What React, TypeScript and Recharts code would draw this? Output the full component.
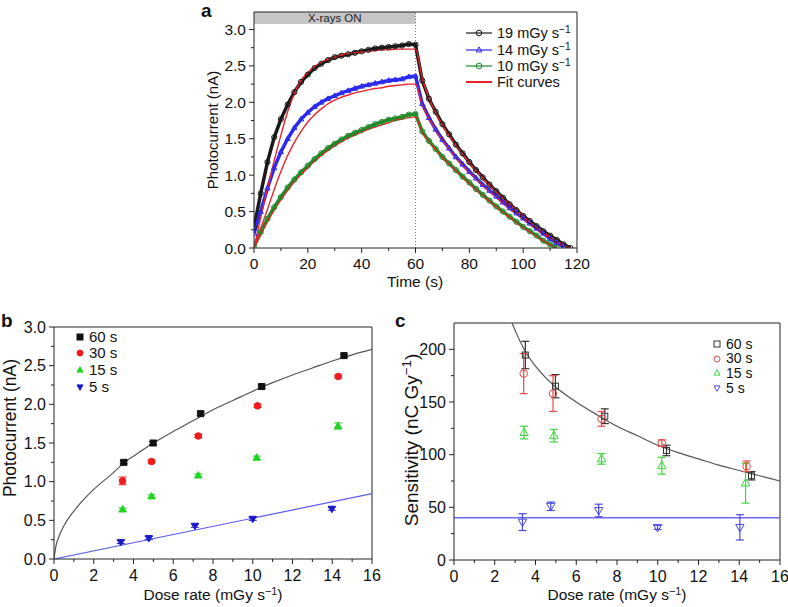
import React from 'react';
import { ComposedChart, Line, Scatter, XAxis, YAxis, ReferenceLine, ReferenceArea, ErrorBar } from 'recharts';

const FONT = '"Liberation Sans", Arial, Helvetica, sans-serif';
const AXIS = '#222';

// ---- panel a: photocurrent vs time (sampled every 2.5 s)
const TIME_A = [
  0, 2.5, 5, 7.5, 10, 12.5, 15, 17.5, 20, 22.5, 25, 27.5, 30, 32.5, 35, 37.5, 40, 42.5, 45, 47.5, 50, 52.5, 55, 57.5,
  60, 62.5, 65, 67.5, 70, 72.5, 75, 77.5, 80, 82.5, 85, 87.5, 90, 92.5, 95, 97.5, 100, 102.5, 105, 107.5, 110, 112.5, 115, 117.5,
];
const D19 = [
  0.28, 0.75, 1.18, 1.52, 1.77, 1.97, 2.14, 2.28, 2.38, 2.47, 2.53, 2.58, 2.62, 2.64, 2.66, 2.68, 2.7, 2.72, 2.74, 2.75, 2.76, 2.77, 2.78, 2.8,
  2.79, 2.3, 2.05, 1.87, 1.7, 1.56, 1.42, 1.3, 1.18, 1.07, 0.97, 0.87, 0.78, 0.69, 0.6, 0.52, 0.44, 0.37, 0.3, 0.23, 0.17, 0.11, 0.05, 0,
];
const D14 = [
  0.2, 0.5, 0.82, 1.1, 1.32, 1.5, 1.65, 1.77, 1.86, 1.94, 2.0, 2.05, 2.09, 2.13, 2.16, 2.19, 2.22, 2.24, 2.26, 2.28, 2.3, 2.31, 2.32, 2.35,
  2.36, 1.98, 1.79, 1.63, 1.49, 1.37, 1.25, 1.15, 1.05, 0.96, 0.87, 0.79, 0.71, 0.63, 0.55, 0.48, 0.41, 0.34, 0.27, 0.2, 0.13, 0.07, 0.02, null,
];
const D10 = [
  0.02, 0.22, 0.4, 0.56, 0.7, 0.83, 0.94, 1.04, 1.13, 1.22, 1.3, 1.37, 1.43, 1.49, 1.54, 1.58, 1.62, 1.66, 1.7, 1.73, 1.76, 1.78, 1.8, 1.83,
  1.84, 1.6, 1.47, 1.36, 1.25, 1.16, 1.07, 0.98, 0.9, 0.81, 0.73, 0.65, 0.57, 0.5, 0.43, 0.36, 0.29, 0.23, 0.17, 0.1, 0.05, 0, null, null,
];
const F19 = [
  0, 0.42, 0.82, 1.2, 1.55, 1.87, 2.12, 2.3, 2.41, 2.49, 2.55, 2.59, 2.62, 2.65, 2.67, 2.68, 2.69, 2.7, 2.71, 2.72, 2.72, 2.73, 2.73, 2.73,
  2.73, 2.33, 2.06, 1.86, 1.69, 1.54, 1.41, 1.29, 1.17, 1.06, 0.96, 0.86, 0.77, 0.68, 0.6, 0.52, 0.44, 0.36, 0.29, 0.22, 0.16, 0.1, 0.04, 0,
];
const F14 = [
  0, 0.27, 0.53, 0.8, 1.05, 1.27, 1.45, 1.6, 1.73, 1.83, 1.91, 1.98, 2.03, 2.07, 2.1, 2.13, 2.15, 2.17, 2.19, 2.2, 2.22, 2.23, 2.24, 2.25,
  2.25, 1.96, 1.78, 1.62, 1.48, 1.36, 1.24, 1.14, 1.04, 0.95, 0.86, 0.78, 0.7, 0.62, 0.54, 0.47, 0.4, 0.33, 0.26, 0.19, 0.13, 0.07, 0.02, null,
];
const F10 = [
  0, 0.18, 0.36, 0.52, 0.66, 0.79, 0.91, 1.01, 1.1, 1.19, 1.27, 1.34, 1.4, 1.46, 1.51, 1.55, 1.59, 1.63, 1.66, 1.69, 1.72, 1.75, 1.77, 1.79,
  1.8, 1.58, 1.46, 1.35, 1.24, 1.15, 1.06, 0.97, 0.88, 0.8, 0.72, 0.64, 0.56, 0.49, 0.42, 0.35, 0.28, 0.22, 0.16, 0.1, 0.04, 0, null, null,
];
const A_XTICKS = [0, 10, 20, 30, 40, 50, 60, 70, 80, 90, 100, 110, 120];
const A_YTICKS = [0, 0.25, 0.5, 0.75, 1, 1.25, 1.5, 1.75, 2, 2.25, 2.5, 2.75, 3];
const A_LEGEND = ['19', '14', '10'];

// ---- panel b: photocurrent vs dose rate
const B_X60 = [3.51, 4.99, 7.38, 10.45, 14.59];
const B_Y60 = [1.25, 1.5, 1.88, 2.23, 2.63];
const B_E60 = [0.02, 0.02, 0.02, 0.02, 0.02];
const B_X30 = [3.45, 4.91, 7.26, 10.24, 14.3];
const B_Y30 = [1.01, 1.26, 1.59, 1.98, 2.36];
const B_E30 = [0.05, 0.02, 0.02, 0.02, 0.02];
const B_X15 = [3.45, 4.91, 7.26, 10.2, 14.29];
const B_Y15 = [0.64, 0.81, 1.08, 1.31, 1.72];
const B_E15 = [0.02, 0.02, 0.02, 0.02, 0.04];
const B_X5 = [3.36, 4.77, 7.09, 10.0, 13.98];
const B_Y5 = [0.22, 0.27, 0.43, 0.52, 0.65];
const B_E5 = [0.02, 0.02, 0.02, 0.02, 0.02];
const B_FIT_X = [0, 0.1, 0.25, 0.5, 1, 1.5, 2, 3, 3.5, 4, 5, 6, 7, 8, 9, 10, 11, 12, 13, 14, 15, 16];
const B_FIT_Y = [0, 0.17, 0.29, 0.43, 0.62, 0.77, 0.9, 1.12, 1.24, 1.33, 1.5, 1.65, 1.79, 1.93, 2.05, 2.17, 2.28, 2.38, 2.47, 2.56, 2.64, 2.71];
const B_LIN_X = [0, 16];
const B_LIN_Y = [0, 0.845];

// ---- panel c: sensitivity vs dose rate
const C_X60 = [3.5, 4.98, 7.4, 10.43, 14.6];
const C_Y60 = [194.6, 165, 136.5, 104, 80];
const C_E60 = [13, 11, 7, 5, 4];
const C_X30 = [3.42, 4.86, 7.24, 10.2, 14.36];
const C_Y30 = [177, 158, 134, 111, 89];
const C_E30 = [19, 17, 7, 3, 5];
const C_X15 = [3.44, 4.9, 7.24, 10.2, 14.31];
const C_Y15 = [121, 118, 96, 89.5, 73];
const C_E15 = [6, 6, 5, 8, 19];
const C_X5 = [3.36, 4.75, 7.1, 9.99, 14.03];
const C_Y5 = [36, 51, 47, 31, 31];
const C_E5 = [8, 4, 6, 2, 12];
const C_FIT_X = [2.85, 3, 3.5, 4, 5, 6, 7, 8, 9, 10, 11, 12, 13, 14, 15, 16];
const C_FIT_Y = [225, 218, 198, 184, 164, 150, 138, 127, 118, 109, 102, 96, 90, 85, 80, 75];
const C_LIN_X = [0, 16];
const C_LIN_Y = [40, 40];

const DOSE_XTICKS = [0, 1, 2, 3, 4, 5, 6, 7, 8, 9, 10, 11, 12, 13, 14, 15, 16];
const B_YTICKS = [0, 0.25, 0.5, 0.75, 1, 1.25, 1.5, 1.75, 2, 2.25, 2.5, 2.75, 3];
const C_YTICKS = [0, 25, 50, 75, 100, 125, 150, 175, 200];
const BC_LEGEND = ['60 s', '30 s', '15 s', '5 s'];

const rowsA = TIME_A.map((t, i) => ({ t, d19: D19[i], d14: D14[i], d10: D10[i], f19: F19[i], f14: F14[i], f10: F10[i] }));
const pts = (xs: number[], ys: number[], es?: number[]) => xs.map((x, i) => ({ x, y: ys[i], e: es ? es[i] : 0 }));

const isMult = (v: number, step: number) => Math.abs(v / step - Math.round(v / step)) < 1e-6;

function bottomTick(step: number, fmt: (v: number) => string, fs: number, dy: number) {
  return (p: any) => {
    const { x, y, payload } = p;
    const major = isMult(payload.value, step);
    return (
      <g>
        <line x1={x} x2={x} y1={y} y2={y + (major ? 5 : 3)} stroke={AXIS} />
        {major && (
          <text x={x} y={y + dy} textAnchor="middle" fontSize={fs} fontFamily={FONT} fill="#111">
            {fmt(payload.value)}
          </text>
        )}
      </g>
    );
  };
}

function leftTick(step: number, fmt: (v: number) => string, fs: number) {
  return (p: any) => {
    const { x, y, payload } = p;
    const major = isMult(payload.value, step);
    return (
      <g>
        <line x1={x} x2={x - (major ? 5 : 3)} y1={y} y2={y} stroke={AXIS} />
        {major && (
          <text x={x - 8} y={y + 5.5} textAnchor="end" fontSize={fs} fontFamily={FONT} fill="#111">
            {fmt(payload.value)}
          </text>
        )}
      </g>
    );
  };
}

function Marker({ kind, cx, cy, s, color, open }: { kind: string; cx: number; cy: number; s: number; color: string; open?: boolean }) {
  const fill = open ? 'none' : color;
  if (kind === 'square') return <rect x={cx - s} y={cy - s} width={s * 2} height={s * 2} fill={fill} stroke={color} strokeWidth={1} />;
  if (kind === 'circle') return <circle cx={cx} cy={cy} r={s} fill={fill} stroke={color} strokeWidth={1} />;
  const d =
    kind === 'up'
      ? `M${cx},${cy - s * 1.1} L${cx + s},${cy + s * 0.7} L${cx - s},${cy + s * 0.7} Z`
      : `M${cx - s},${cy - s * 0.7} L${cx + s},${cy - s * 0.7} L${cx},${cy + s * 1.1} Z`;
  return <path d={d} fill={fill} stroke={color} strokeWidth={1} />;
}

const lineDot = (kind: string, color: string) => (p: any) => {
  const k = p.key ?? `dot-${p.index}`;
  if (p.cx == null || p.cy == null || p.value == null || Number.isNaN(p.cy)) return <g key={k} />;
  return (
    <g key={k}>
      <Marker kind={kind} cx={p.cx} cy={p.cy} s={2.6} color={color} open />
    </g>
  );
};

const scatterShape = (kind: string, color: string, s: number, open: boolean) => (p: any) => (
  <Marker kind={kind} cx={p.cx} cy={p.cy} s={s} color={color} open={open} />
);

const Sup = ({ children }: { children: React.ReactNode }) => (
  <span style={{ fontSize: '0.7em', position: 'relative', top: '-0.5em' }}>{children}</span>
);

const abs = (left: number, top: number, extra: React.CSSProperties = {}): React.CSSProperties => ({
  position: 'absolute',
  left,
  top,
  fontFamily: FONT,
  color: '#111',
  whiteSpace: 'nowrap',
  lineHeight: 1,
  ...extra,
});

const C19 = '#1a1a1a';
const C14 = '#2a2af0';
const C10 = '#1e8a28';
const CFIT = '#e8242a';

const COLOR_B = ['#111111', '#ee1c1c', '#1ed41e', '#1a1acc'];
const COLOR_C = ['#333333', '#e84848', '#39d639', '#4a4ae0'];
const KINDS = ['square', 'circle', 'up', 'down'];

function LegendA() {
  const colors = [C19, C14, C10];
  const kinds = ['circle', 'up', 'circle'];
  const rows = [33, 50, 66];
  return (
    <>
      {A_LEGEND.map((lab, i) => (
        <React.Fragment key={lab}>
          <svg style={abs(464, rows[i] - 6)} width={30} height={12}>
            <line x1={2} x2={28} y1={6} y2={6} stroke={colors[i]} strokeWidth={1.2} />
            <Marker kind={kinds[i]} cx={15} cy={6} s={2.8} color={colors[i]} open />
          </svg>
          <div style={abs(497, rows[i] - 7, { fontSize: 14.5 })}>
            {lab} mGy s<Sup>−1</Sup>
          </div>
        </React.Fragment>
      ))}
      <svg style={abs(464, 76)} width={30} height={12}>
        <line x1={2} x2={28} y1={6} y2={6} stroke={CFIT} strokeWidth={2} />
      </svg>
      <div style={abs(497, 75, { fontSize: 14.5 })}>Fit curves</div>
    </>
  );
}

function LegendBC({ left, rows, colors, open, fs }: { left: number; rows: number[]; colors: string[]; open: boolean; fs: number }) {
  return (
    <>
      {BC_LEGEND.map((lab, i) => (
        <React.Fragment key={lab}>
          <svg style={abs(left - 6, rows[i] - 6)} width={12} height={12}>
            <Marker kind={KINDS[i]} cx={6} cy={6} s={3} color={colors[i]} open={open} />
          </svg>
          <div style={abs(left + 9, rows[i] - fs / 2 - 0.5, { fontSize: fs, lineHeight: `${fs}px` })}>{lab}</div>
        </React.Fragment>
      ))}
    </>
  );
}

function PanelA() {
  return (
    <div style={{ position: 'absolute', left: 0, top: 0, width: 788, height: 300 }}>
      <ComposedChart width={788} height={300} data={rowsA} margin={{ top: 12, right: 211, bottom: 22, left: 194 }}>
        <XAxis
          dataKey="t"
          type="number"
          domain={[0, 120]}
          ticks={A_XTICKS}
          interval={0}
          tickSize={0}
          tickMargin={0}
          tickLine={false}
          axisLine={{ stroke: AXIS }}
          tick={bottomTick(20, (v) => String(v), 15.5, 21)}
          height={30}
          allowDataOverflow
        />
        <YAxis
          type="number"
          domain={[0, 3.24]}
          ticks={A_YTICKS}
          interval={0}
          tickSize={0}
          tickMargin={0}
          tickLine={false}
          axisLine={{ stroke: AXIS }}
          tick={leftTick(0.5, (v) => v.toFixed(1), 15.5)}
          width={60}
          allowDataOverflow
        />
        <ReferenceArea
          x1={0}
          x2={60}
          y1={3.075}
          y2={3.24}
          fill="#c6c6c6"
          fillOpacity={1}
          stroke="none"
          label={{ value: 'X-rays ON', position: 'center', fontSize: 11.5, fill: '#222', fontFamily: FONT }}
        />
        <ReferenceLine x={60} stroke="#777" strokeDasharray="1 2" />
        <ReferenceLine y={3.24} stroke={AXIS} />
        <ReferenceLine x={120} stroke={AXIS} />
        <Line dataKey="d19" type="linear" stroke={C19} strokeWidth={3.5} dot={lineDot('circle', C19)} isAnimationActive={false} />
        <Line dataKey="d14" type="linear" stroke={C14} strokeWidth={3.5} dot={lineDot('up', C14)} isAnimationActive={false} />
        <Line dataKey="d10" type="linear" stroke={C10} strokeWidth={3.5} dot={lineDot('circle', C10)} isAnimationActive={false} />
        <Line dataKey="f19" type="monotone" stroke={CFIT} strokeWidth={1.4} dot={false} isAnimationActive={false} />
        <Line dataKey="f14" type="monotone" stroke={CFIT} strokeWidth={1.4} dot={false} isAnimationActive={false} />
        <Line dataKey="f10" type="monotone" stroke={CFIT} strokeWidth={1.4} dot={false} isAnimationActive={false} />
      </ComposedChart>
    </div>
  );
}

function PanelB() {
  const series = [pts(B_X60, B_Y60, B_E60), pts(B_X30, B_Y30, B_E30), pts(B_X15, B_Y15, B_E15), pts(B_X5, B_Y5, B_E5)];
  const sizes = [3, 3.3, 3.6, 3.6];
  return (
    <div style={{ position: 'absolute', left: 0, top: 300, width: 394, height: 307 }}>
      <ComposedChart width={394} height={307} margin={{ top: 27, right: 22, bottom: 18, left: 4 }}>
        <XAxis
          dataKey="x"
          type="number"
          domain={[0, 16]}
          ticks={DOSE_XTICKS}
          interval={0}
          tickSize={0}
          tickMargin={0}
          tickLine={false}
          axisLine={{ stroke: AXIS }}
          tick={bottomTick(2, (v) => String(v), 16, 22)}
          height={30}
          allowDataOverflow
        />
        <YAxis
          dataKey="y"
          type="number"
          domain={[0, 3]}
          ticks={B_YTICKS}
          interval={0}
          tickSize={0}
          tickMargin={0}
          tickLine={false}
          axisLine={{ stroke: AXIS }}
          tick={leftTick(0.5, (v) => v.toFixed(1), 16)}
          width={50}
          allowDataOverflow
        />
        <ReferenceLine y={3} stroke={AXIS} />
        <ReferenceLine x={16} stroke={AXIS} />
        <Line data={pts(B_FIT_X, B_FIT_Y)} dataKey="y" type="monotone" stroke="#555" strokeWidth={1.2} dot={false} isAnimationActive={false} />
        <Line data={pts(B_LIN_X, B_LIN_Y)} dataKey="y" type="linear" stroke="#5a5af2" strokeWidth={1.2} dot={false} isAnimationActive={false} />
        {series.map((d, i) => (
          <Scatter key={i} data={d} dataKey="y" shape={scatterShape(KINDS[i], COLOR_B[i], sizes[i], false)} isAnimationActive={false}>
            <ErrorBar dataKey="e" direction="y" width={4} stroke={COLOR_B[i]} strokeWidth={1} />
          </Scatter>
        ))}
      </ComposedChart>
    </div>
  );
}

function PanelC() {
  const series = [pts(C_X60, C_Y60, C_E60), pts(C_X30, C_Y30, C_E30), pts(C_X15, C_Y15, C_E15), pts(C_X5, C_Y5, C_E5)];
  const sizes = [3, 3.8, 4.2, 4.2];
  return (
    <div style={{ position: 'absolute', left: 394, top: 300, width: 394, height: 307 }}>
      <ComposedChart width={394} height={307} margin={{ top: 23, right: 8, bottom: 17, left: 10 }}>
        <XAxis
          dataKey="x"
          type="number"
          domain={[0, 16]}
          ticks={DOSE_XTICKS}
          interval={0}
          tickSize={0}
          tickMargin={0}
          tickLine={false}
          axisLine={{ stroke: AXIS }}
          tick={bottomTick(2, (v) => String(v), 16, 22)}
          height={30}
          allowDataOverflow
        />
        <YAxis
          dataKey="y"
          type="number"
          domain={[0, 225]}
          ticks={C_YTICKS}
          interval={0}
          tickSize={0}
          tickMargin={0}
          tickLine={false}
          axisLine={{ stroke: AXIS }}
          tick={leftTick(50, (v) => String(v), 16)}
          width={50}
          allowDataOverflow
        />
        <ReferenceLine y={225} stroke={AXIS} />
        <ReferenceLine x={16} stroke={AXIS} />
        <Line data={pts(C_FIT_X, C_FIT_Y)} dataKey="y" type="monotone" stroke="#555" strokeWidth={1.2} dot={false} isAnimationActive={false} />
        <Line data={pts(C_LIN_X, C_LIN_Y)} dataKey="y" type="linear" stroke="#6a6af2" strokeWidth={1.5} dot={false} isAnimationActive={false} />
        {series.map((d, i) => (
          <Scatter key={i} data={d} dataKey="y" shape={scatterShape(KINDS[i], COLOR_C[i], sizes[i], true)} isAnimationActive={false}>
            <ErrorBar dataKey="e" direction="y" width={4} stroke={COLOR_C[i]} strokeWidth={1.2} />
          </Scatter>
        ))}
      </ComposedChart>
    </div>
  );
}

const rot = (cx: number, cy: number, fs: number): React.CSSProperties =>
  abs(cx, cy, { fontSize: fs, transform: 'translate(-50%, -50%) rotate(-90deg)' });
const center = (cx: number, cy: number, fs: number): React.CSSProperties =>
  abs(cx, cy, { fontSize: fs, transform: 'translate(-50%, -50%)' });

export default function App() {
  return (
    <div style={{ position: 'absolute', left: 0, top: 0, width: 788, height: 607, background: '#fff', overflow: 'hidden' }}>
      <PanelA />
      <PanelB />
      <PanelC />
      <LegendA />
      <LegendBC left={80} rows={[337, 353, 370, 387]} colors={COLOR_B} open={false} fs={15} />
      <LegendBC left={717} rows={[344, 358.5, 373, 388]} colors={COLOR_C} open fs={14} />

      <div style={abs(201, 1, { fontSize: 19, fontWeight: 'bold' })}>a</div>
      <div style={abs(1, 311, { fontSize: 19, fontWeight: 'bold' })}>b</div>
      <div style={abs(395, 311, { fontSize: 19, fontWeight: 'bold' })}>c</div>

      <div style={rot(212, 130, 15)}>Photocurrent (nA)</div>
      <div style={center(415, 282, 15.5)}>Time (s)</div>

      <div style={rot(11, 428, 17.5)}>Photocurrent (nA)</div>
      <div style={center(213, 595, 15.5)}>
        Dose rate (mGy s<Sup>−1</Sup>)
      </div>

      <div style={rot(411, 440, 19)}>
        Sensitivity (nC Gy<Sup>−1</Sup>)
      </div>
      <div style={center(617, 595, 15.5)}>
        Dose rate (mGy s<Sup>−1</Sup>)
      </div>
    </div>
  );
}
